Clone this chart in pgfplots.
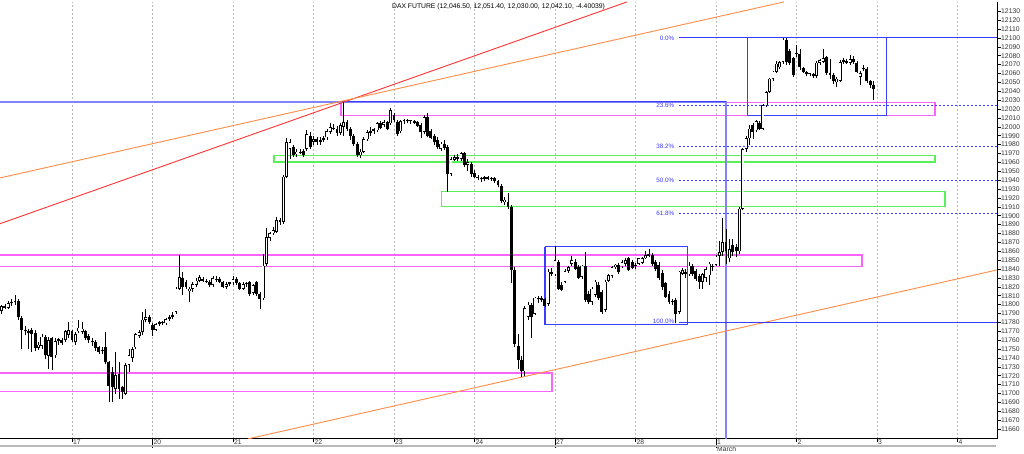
\documentclass[border=0pt]{standalone}
\usepackage{fontspec}
\setmainfont{Liberation Sans}
\usepackage{pgfplots}
\usepackage{pgfplotstable}
\pgfplotsset{compat=1.18}
\definecolor{fibblue}{RGB}{60,60,255}
\definecolor{lightblue}{RGB}{130,130,255}
\definecolor{tlred}{RGB}{255,50,50}
\definecolor{tlorange}{RGB}{255,140,70}
\definecolor{zpink}{RGB}{250,100,250}
\definecolor{zgreen}{RGB}{90,240,90}
\definecolor{gridgray}{RGB}{185,185,185}
\pgfplotstableread{
i o h l c
-21 11793 11800 11790 11798
-20 11798 11801 11795 11796
-19 11796 11804 11795 11802
-18 11802 11806 11799 11803
-17 11803 11811 11800 11804
-16 11804 11806 11783 11786
-15 11785 11787 11750 11771
-14 11771 11776 11766 11770
-13 11770 11773 11750 11768
-12 11772 11774 11747 11767
-11 11768 11771 11748 11751
-10 11751 11758 11749 11755
-9 11754 11767 11750 11764
-8 11764 11766 11739 11743
-7 11742 11764 11728 11760
-6 11762 11764 11726 11741
-5 11743 11762 11740 11759
-4 11759 11763 11755 11761
-3 11760 11762 11755 11757
-2 11760 11772 11758 11770
-1 11766 11780 11763 11771
0 11770 11772 11758 11760
1 11758 11769 11755 11767
2 11770 11783 11768 11774
3 11769 11780 11767 11773
4 11770 11772 11760 11762
5 11765 11767 11757 11760
6 11758 11762 11754 11759
7 11758 11760 11748 11751
8 11752 11754 11745 11747
9 11749 11752 11744 11748
10 11752 11769 11733 11735
11 11735 11737 11690 11709
12 11724 11730 11690 11707
13 11705 11747 11700 11721
14 11722 11735 11694 11705
15 11707 11709 11694 11702
16 11700 11734 11698 11732
17 11732 11750 11724 11743
18 11740 11752 11736 11750
19 11752 11768 11750 11767
20 11765 11771 11762 11769
21 11769 11792 11766 11783
22 11783 11795 11780 11786
23 11786 11788 11778 11780
24 11777 11779 11765 11772
25 11772 11779 11770 11778
26 11778 11782 11776 11780
27 11780 11782 11777 11779
28 11779 11785 11777 11784
29 11784 11788 11782 11786
30 11786 11792 11784 11788
31 11792 11820 11790 11818
32 11818 11856 11816 11831
33 11830 11837 11811 11820
34 11825 11828 11818 11820
35 11815 11820 11803 11818
36 11818 11825 11814 11823
37 11822 11830 11820 11827
38 11827 11833 11825 11831
39 11829 11831 11825 11827
40 11827 11829 11824 11826
41 11826 11828 11820 11822
42 11822 11832 11820 11830
43 11829 11832 11826 11828
44 11829 11831 11824 11825
45 11825 11827 11819 11820
46 11820 11825 11818 11823
47 11823 11826 11821 11825
48 11825 11832 11822 11829
49 11829 11831 11822 11824
50 11824 11826 11816 11818
51 11818 11825 11816 11823
52 11823 11826 11820 11824
53 11825 11827 11810 11812
54 11813 11823 11811 11822
55 11825 11827 11810 11812
56 11812 11814 11795 11806
57 11807 11857 11805 11844
58 11846 11886 11844 11876
59 11875 11882 11872 11880
60 11880 11887 11878 11884
61 11882 11898 11880 11895
62 11893 11897 11890 11895
63 11893 11946 11891 11944
64 11944 11987 11942 11983
65 11975 11986 11964 11983
66 11977 11980 11966 11968
67 11969 11975 11966 11972
68 11972 11975 11969 11970
69 11973 11975 11966 11968
70 11975 11996 11973 11992
71 11990 11994 11975 11977
72 11983 11990 11979 11986
73 11986 11988 11980 11983
74 11983 11988 11980 11985
75 11985 11990 11983 11987
76 11988 11997 11985 11995
77 11994 12004 11992 12000
78 11999 12003 11996 11998
79 11997 12001 11990 11993
80 11993 12004 11991 12002
81 12000 12028 11990 12005
82 12005 12008 11995 11998
83 11998 12000 11985 11990
84 11990 11992 11978 11981
85 11981 11983 11966 11968
86 11968 11975 11965 11972
87 11972 11988 11970 11986
88 11986 11996 11984 11994
89 11993 12000 11990 11995
90 11995 11999 11992 11997
91 11996 12005 11994 12004
92 12004 12006 11997 11999
93 12002 12008 12000 12005
94 12005 12007 11996 11998
95 12004 12021 12002 12019
96 12013 12016 12005 12008
97 12005 12008 11990 11992
98 11995 12008 11993 12006
99 12006 12009 12003 12007
100 12007 12009 12004 12006
101 12006 12008 12003 12007
102 12006 12008 12003 12004
103 12005 12007 12000 12001
104 12002 12004 11987 11994
105 11994 12013 11992 12011
106 12011 12015 11988 11990
107 11995 11998 11986 11987
108 11990 11992 11979 11983
109 11985 11988 11975 11977
110 11975 11983 11973 11981
111 11981 11985 11974 11976
112 11977 11980 11927 11947
113 11947 11966 11945 11964
114 11963 11968 11962 11966
115 11966 11969 11962 11964
116 11964 11972 11962 11970
117 11970 11972 11955 11957
118 11957 11964 11950 11960
119 11958 11960 11944 11947
120 11948 11951 11942 11944
121 11943 11946 11940 11942
122 11942 11944 11938 11941
123 11941 11945 11939 11943
124 11943 11945 11940 11941
125 11941 11944 11939 11942
126 11942 11943 11937 11939
127 11939 11940 11932 11934
128 11933 11936 11914 11916
129 11915 11921 11912 11918
130 11915 11925 11908 11910
131 11910 11912 11824 11839
132 11839 11842 11752 11756
133 11754 11767 11728 11738
134 11738 11742 11719 11725
135 11725 11798 11720 11796
136 11786 11803 11783 11800
137 11800 11802 11762 11786
138 11790 11809 11788 11808
139 11806 11810 11802 11808
140 11808 11810 11803 11805
141 11806 11808 11797 11799
142 11801 11840 11799 11837
143 11837 11841 11832 11834
144 11834 11866 11832 11850
145 11848 11850 11816 11818
146 11822 11825 11815 11817
147 11826 11840 11824 11838
148 11838 11844 11836 11842
149 11846 11855 11843 11850
150 11848 11851 11839 11840
151 11842 11845 11829 11830
152 11831 11845 11829 11844
153 11844 11859 11803 11805
154 11812 11815 11801 11803
155 11803 11820 11800 11818
156 11811 11828 11809 11826
157 11822 11825 11805 11807
158 11814 11816 11790 11792
159 11794 11828 11792 11826
160 11827 11834 11825 11833
161 11832 11844 11830 11842
162 11842 11846 11840 11845
163 11845 11847 11834 11837
164 11843 11850 11841 11848
165 11846 11852 11844 11850
166 11852 11854 11838 11839
167 11848 11850 11840 11841
168 11844 11847 11840 11843
169 11846 11853 11845 11852
170 11847 11854 11846 11852
171 11852 11860 11851 11856
172 11857 11863 11853 11855
173 11856 11858 11844 11846
174 11848 11850 11838 11840
175 11845 11848 11828 11830
176 11836 11839 11817 11820
177 11824 11826 11808 11809
178 11812 11815 11801 11803
179 11804 11806 11800 11803
180 11805 11807 11779 11790
181 11792 11838 11790 11837
182 11835 11841 11833 11839
183 11837 11840 11830 11834
184 11834 11848 11832 11844
185 11844 11846 11832 11834
186 11838 11840 11827 11829
187 11832 11834 11818 11825
188 11826 11836 11818 11834
189 11830 11842 11826 11840
190 11833 11848 11822 11846
191 11842 11846 11838 11844
192 11845 11856 11843 11854
193 11855 11872 11844 11859
194 11859 11897 11855 11870
195 11870 11885 11846 11860
196 11852 11874 11848 11862
197 11867 11874 11855 11859
198 11865 11868 11853 11860
199 11860 11910 11857 11908
200 11908 11976 11906 11975
201 11975 11990 11972 11987
202 11987 12002 11980 11998
203 12002 12004 11986 11994
204 11996 12008 11994 12006
205 12004 12006 11996 11998
206 11998 12026 11996 12024
207 12024 12040 12022 12039
208 12039 12055 12038 12054
209 12054 12063 12052 12062
210 12062 12074 12060 12071
211 12067 12074 12065 12073
212 12073 12100 12071 12098
213 12098 12100 12070 12073
214 12085 12087 12070 12072
215 12077 12079 12056 12058
216 12082 12092 12079 12083
217 12082 12088 12064 12067
218 12066 12067 12061 12062
219 12062 12063 12057 12059
220 12059 12061 12057 12060
221 12059 12060 12055 12057
222 12057 12074 12055 12072
223 12072 12076 12070 12075
224 12073 12088 12072 12077
225 12078 12080 12058 12060
226 12060 12076 12054 12058
227 12058 12060 12048 12051
228 12050 12056 12045 12054
229 12052 12075 12050 12073
230 12073 12077 12071 12075
231 12074 12076 12071 12072
232 12072 12081 12070 12076
233 12076 12080 12071 12073
234 12072 12074 12061 12062
235 12056 12063 12047 12060
236 12066 12069 12063 12065
237 12065 12067 12049 12051
238 12051 12053 12044 12047
239 12046.5 12051.4 12030 12042.1
}\candles

\begin{document}
\begin{tikzpicture}[x=1pt,y=1pt]
\useasboundingbox (0,0) rectangle (1024,454);
\begin{axis}[
  at={(0,17)}, anchor=south west,
  width=997pt, height=437pt, scale only axis,
  xmin=-21.47, xmax=275.8, ymin=11649, ymax=12140.5,
  axis x line*=bottom, axis y line*=right,
  axis line style={-, black, line width=0.9pt},
  xtick={0,24,...,264},
  xticklabels={17,20,21,22,23,24,27,28,{1\\March},2,3,4},
  ytick={11660,11670,...,12130},
  scaled y ticks=false,
  yticklabel={\pgfmathprintnumber[fixed,precision=0,1000 sep={}]{\tick}},
  tick align=outside, major tick length=3.5pt,
  tick style={black, line width=0.6pt},
  extra x ticks={24,144,192},
  extra x tick labels={},
  extra x tick style={grid=none, major tick length=9pt},
  xmajorgrids, ymajorgrids=false,
  grid style={gridgray, dash pattern=on 2pt off 2pt, line width=0.6pt},
  ticklabel style={font=\fontsize{6.8}{7.2}\selectfont, text=black!80},
  xticklabel style={anchor=north west, align=left, inner sep=0.5pt, xshift=0.5pt, yshift=3pt},
  yticklabel style={anchor=west, inner sep=0.5pt},
  /pgf/number format/assume math mode=true,
  clip=true,
]
% zones
\addplot[zpink, line width=1.4pt] coordinates {(80.2,12027) (257.3,12027) (257.3,12013) (80.2,12013) (80.2,12027)};
\addplot[zpink, line width=1.4pt] coordinates {(-25,11856) (235.5,11856) (235.5,11843) (-25,11843) (-25,11856)};
\addplot[zpink, line width=1.4pt] coordinates {(-25,11723) (143.1,11723) (143.1,11702) (-25,11702) (-25,11723)};
\addplot[zgreen, line width=1.3pt] coordinates {(60.2,11968) (257.3,11968) (257.3,11960.5) (60.2,11960.5) (60.2,11968)};
\addplot[zgreen, line width=1.3pt] coordinates {(110.2,11927.6) (260.3,11927.6) (260.3,11910.7) (110.2,11910.7) (110.2,11927.6)};
% crosshair
\addplot[lightblue, line width=1.2pt] coordinates {(-25,12028) (195,12028) (195,11600)};
\addplot[fibblue, line width=1.2pt] coordinates {(80.2,12028.5) (195,12028.5)};
% blue boxes
\addplot[fibblue, line width=1.2pt] coordinates {(201.5,12100) (242.8,12100) (242.8,12013) (201.5,12013) (201.5,12100)};
\addplot[fibblue, line width=1.2pt] coordinates {(141,11865) (183.6,11865) (183.6,11778) (141,11778) (141,11865)};
% trend lines
\addplot[tlred, line width=0.9pt] coordinates {(-21.47,11891) (165.5,12140.5)};
\addplot[tlorange, line width=0.9pt] coordinates {(-21.47,11942.5) (212.3,12140.5)};
\addplot[tlorange, line width=0.9pt] coordinates {(52.5,11649) (275.8,11839)};
% fibonacci
\addplot[fibblue, line width=0.9pt] coordinates {(181,12100) (275.8,12100)};
\addplot[fibblue, line width=0.9pt, dash pattern=on 2pt off 2pt] coordinates {(181,12024.5) (275.8,12024.5)};
\addplot[fibblue, line width=0.9pt, dash pattern=on 2pt off 2pt] coordinates {(181,11977.8) (275.8,11977.8)};
\addplot[fibblue, line width=0.9pt, dash pattern=on 2pt off 2pt] coordinates {(181,11940) (275.8,11940)};
\addplot[fibblue, line width=0.9pt, dash pattern=on 2pt off 2pt] coordinates {(181,11902.2) (275.8,11902.2)};
\addplot[fibblue, line width=0.9pt] coordinates {(181,11780) (275.8,11780)};
\begin{scope}[every node/.style={fibblue, anchor=east, inner sep=0.5pt, font=\fontsize{6.3}{7}\selectfont}]
\node at (axis cs:179.8,12100) {0.0\%};
\node at (axis cs:179.8,12024.5) {23.6\%};
\node at (axis cs:179.8,11977.8) {38.2\%};
\node at (axis cs:179.8,11940) {50.0\%};
\node at (axis cs:179.8,11902.2) {61.8\%};
\node at (axis cs:179.8,11781) {100.0\%};
\end{scope}
% candles: wicks
\addplot[draw=none, no markers,
  error bars/.cd, y dir=plus, y explicit, error mark=none,
  error bar style={line width=0.6pt, solid, draw=black}]
  table[x=i, y=l, y error plus expr={\thisrow{h}-\thisrow{l}}] \candles;
% bodies (black)
\addplot[draw=none, no markers,
  error bars/.cd, y dir=plus, y explicit, error mark=none,
  error bar style={line width=2.9pt, solid, draw=black}]
  table[x=i, y expr={min(\thisrow{o},\thisrow{c})}, y error plus expr={max(abs(\thisrow{c}-\thisrow{o}),1.1)}] \candles;
% bodies (white, up candles)
\addplot[draw=none, no markers,
  restrict expr to domain={\thisrow{c}-\thisrow{o}}{2.4:10000},
  error bars/.cd, y dir=plus, y explicit, error mark=none,
  error bar style={line width=1.6pt, solid, draw=white}]
  table[x=i, y expr={\thisrow{o}+0.8}, y error plus expr={\thisrow{c}-\thisrow{o}-1.6}] \candles;
\node[anchor=north, inner sep=1pt, font=\fontsize{6.8}{7.5}\selectfont] at (axis description cs:0.5,1) {DAX FUTURE (12,046.50, 12,051.40, 12,030.00, 12,042.10, -4.40039)};
\end{axis}
\draw[gray!55, line width=2pt] (0,8) -- (996,8);
\end{tikzpicture}
\end{document}
